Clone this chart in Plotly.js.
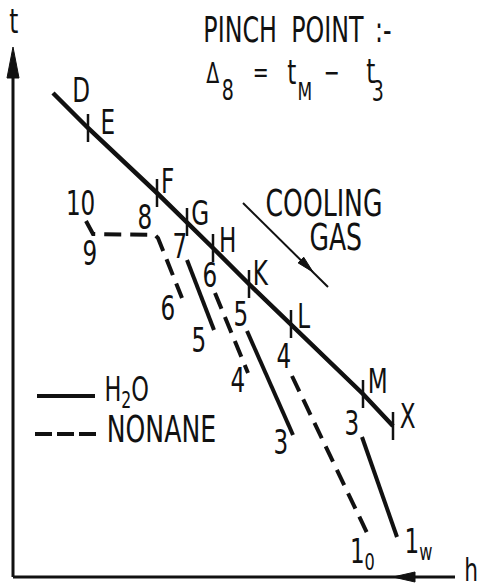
<!DOCTYPE html>
<html>
<head>
<meta charset="utf-8">
<script src="https://cdn.plot.ly/plotly-3.0.1.min.js"></script>
<style>
  html, body { margin: 0; padding: 0; background: #fff; }
  #chart { width: 479px; height: 584px; }
  /* tall, narrow stencil-style lettering */
  #chart .annotation-text {
    transform-box: fill-box;
    transform-origin: 50% 50%;
    transform: scaleX(0.68);
  }
</style>
</head>
<body>
<div id="chart"></div>
<script>
// Cooling gas line D … X in the t–h diagram (h to the right, t upwards)
const gasLabels = ['D', 'E', 'F', 'G', 'H', 'K', 'L', 'M', 'X'];
const gasH = [53, 88, 157, 187, 213, 249, 291, 363, 393];
const gasT = [491, 456, 391, 362, 336, 300, 260, 190, 158];

// Water (H2O) heat-exchanger stages 7–5, 5–3, 3–1w
const waterLabels = ['7', '5', '5', '3', '3', '1<sub>w</sub>'];
const waterH = [[187, 214], [247, 293], [362, 397]];
const waterT = [[324, 254], [253, 149], [147, 47]];

// Nonane stages 10–9–8–6, 6–4, 4–1o
const nonaneLabels = ['10', '9', '8', '6', '6', '4', '4', '1<sub>0</sub>'];
const nonaneH = [[86, 93, 155, 158, 182], [215, 248], [292, 369]];
const nonaneT = [[363, 350, 349, 346, 286], [291, 211], [208, 47]];

const INK = '#111';
const FONT = '"DejaVu Sans", "Liberation Sans", sans-serif';

// join segments into one trace, separated by gaps
function joinSegments(segs) {
  const out = [];
  segs.forEach((s, i) => { if (i) out.push(null); out.push(...s); });
  return out;
}

const traces = [
  { x: gasH, y: gasT, mode: 'lines', line: { color: INK, width: 4.5 }, hoverinfo: 'skip' },
  { x: gasH.slice(1), y: gasT.slice(1), mode: 'markers', hoverinfo: 'skip',
    marker: { symbol: 'line-ns-open', size: 20, color: INK, line: { color: INK, width: 2.5 } } },
  { x: joinSegments(waterH), y: joinSegments(waterT), mode: 'lines',
    line: { color: INK, width: 4 }, connectgaps: false, hoverinfo: 'skip' },
  { x: joinSegments(nonaneH), y: joinSegments(nonaneT), mode: 'lines',
    line: { color: INK, width: 4, dash: '17px,9px' }, connectgaps: false, hoverinfo: 'skip' }
];

// label offsets (px) from the point they name
const gasShift = [[28, 3], [19, 6], [11, 12], [13, 9], [15, 8], [12, 11], [12, 8], [14, 13], [14, 10]];
const waterShift = [[-7, 14], [-15, -10], [-6, 17], [-12, -7], [-10, 14], [21, -6]];
const nonaneShift = [[-6, 18], [-3, -19], [-10, 18], [-14, -10], [-5, 18], [-10, -7], [-8, 20], [-7, -16]];

const annotations = [];
function label(text, x, y, dx, dy, size) {
  annotations.push({ text, x, y, xshift: dx, yshift: dy, showarrow: false,
    xanchor: 'center', yanchor: 'middle', font: { family: FONT, size: size, color: INK } });
}
gasLabels.forEach((s, i) => label(s, gasH[i], gasT[i], gasShift[i][0], gasShift[i][1], 34));

const waterPts = [];
waterH.forEach((s, i) => { waterPts.push([s[0], waterT[i][0]], [s[s.length - 1], waterT[i][s.length - 1]]); });
waterPts.forEach((p, i) => label(waterLabels[i], p[0], p[1], waterShift[i][0], waterShift[i][1], 34));

// order: 10, 9, 8, 6 | 6, 4 | 4, 1o
const nonanePts = [];
nonaneH.forEach((s, i) => {
  if (i === 0) s.slice(0, 3).forEach((h, k) => nonanePts.push([h, nonaneT[0][k]]));
  else nonanePts.push([s[0], nonaneT[i][0]]);
  nonanePts.push([s[s.length - 1], nonaneT[i][s.length - 1]]);
});
nonanePts.forEach((p, i) => label(nonaneLabels[i], p[0], p[1], nonaneShift[i][0], nonaneShift[i][1], 34));

function text(t, x, y, size) {
  annotations.push({ text: t, x, y, showarrow: false, xanchor: 'center', yanchor: 'middle',
    font: { family: FONT, size, color: INK } });
}
// heading
text('PINCH', 240, 554, 35);
text('POINT', 327, 554, 35);
text(':-', 383, 554, 35);
// Δ8 = tM − t3
text('Δ', 212, 511, 28);
text('8', 228, 494, 28);
text('=', 260, 512, 28);
text('t', 291, 512, 34);
text('M', 305, 493, 25);
text('−', 331, 512, 28);
text('t', 370, 513, 34);
text('3', 378, 493, 28);
// gas flow note
text('COOLING', 324, 381, 37);
text('GAS', 335, 347, 37);
// key
text('H<sub>2</sub>O', 127, 193, 33);
text('NONANE', 161, 155, 37);
// axis names
text('t', 13, 563, 34);
text('h', 471, 14, 32);

// filled arrow head: tip point, direction, length, half width
function headPath(tx, ty, dx, dy, len, hw) {
  const n = Math.hypot(dx, dy); dx /= n; dy /= n;
  const bx = tx - dx * len, by = ty - dy * len;
  const px = -dy * hw, py = dx * hw;
  return `M${tx},${ty} L${bx + px},${by + py} L${bx - px},${by - py} Z`;
}

const origin = [13, 7];
const yTop = 537, xEnd = 455;
const shapes = [
  // t axis and h axis
  { type: 'line', x0: origin[0], y0: origin[1], x1: origin[0], y1: yTop - 20, line: { color: INK, width: 3 } },
  { type: 'line', x0: origin[0], y0: origin[1], x1: xEnd, y1: origin[1], line: { color: INK, width: 3 } },
  { type: 'path', path: headPath(origin[0], yTop, 0, 1, 31, 6), fillcolor: INK, line: { color: INK, width: 1 } },
  { type: 'path', path: headPath(393, origin[1], -1, 0, 22, 5), fillcolor: INK, line: { color: INK, width: 1 } },
  // cooling gas direction arrow
  { type: 'line', x0: 243, y0: 381, x1: 328, y1: 297, line: { color: INK, width: 2 } },
  { type: 'path', path: headPath(313, 312, 85, -84, 17, 4), fillcolor: INK, line: { color: INK, width: 1 } },
  // key samples
  { type: 'line', x0: 37, y0: 188, x1: 95, y1: 188, line: { color: INK, width: 4 } },
  { type: 'line', x0: 35, y0: 150, x1: 97, y1: 150, line: { color: INK, width: 4, dash: '17px,5px' } }
];

const layout = {
  width: 479, height: 584,
  margin: { l: 0, r: 0, t: 0, b: 0 },
  paper_bgcolor: '#fff', plot_bgcolor: '#fff',
  showlegend: false,
  xaxis: { range: [0, 479], visible: false, fixedrange: true },
  yaxis: { range: [0, 584], visible: false, fixedrange: true },
  shapes, annotations
};

Plotly.newPlot('chart', traces, layout, { staticPlot: true, displayModeBar: false });
</script>
</body>
</html>
